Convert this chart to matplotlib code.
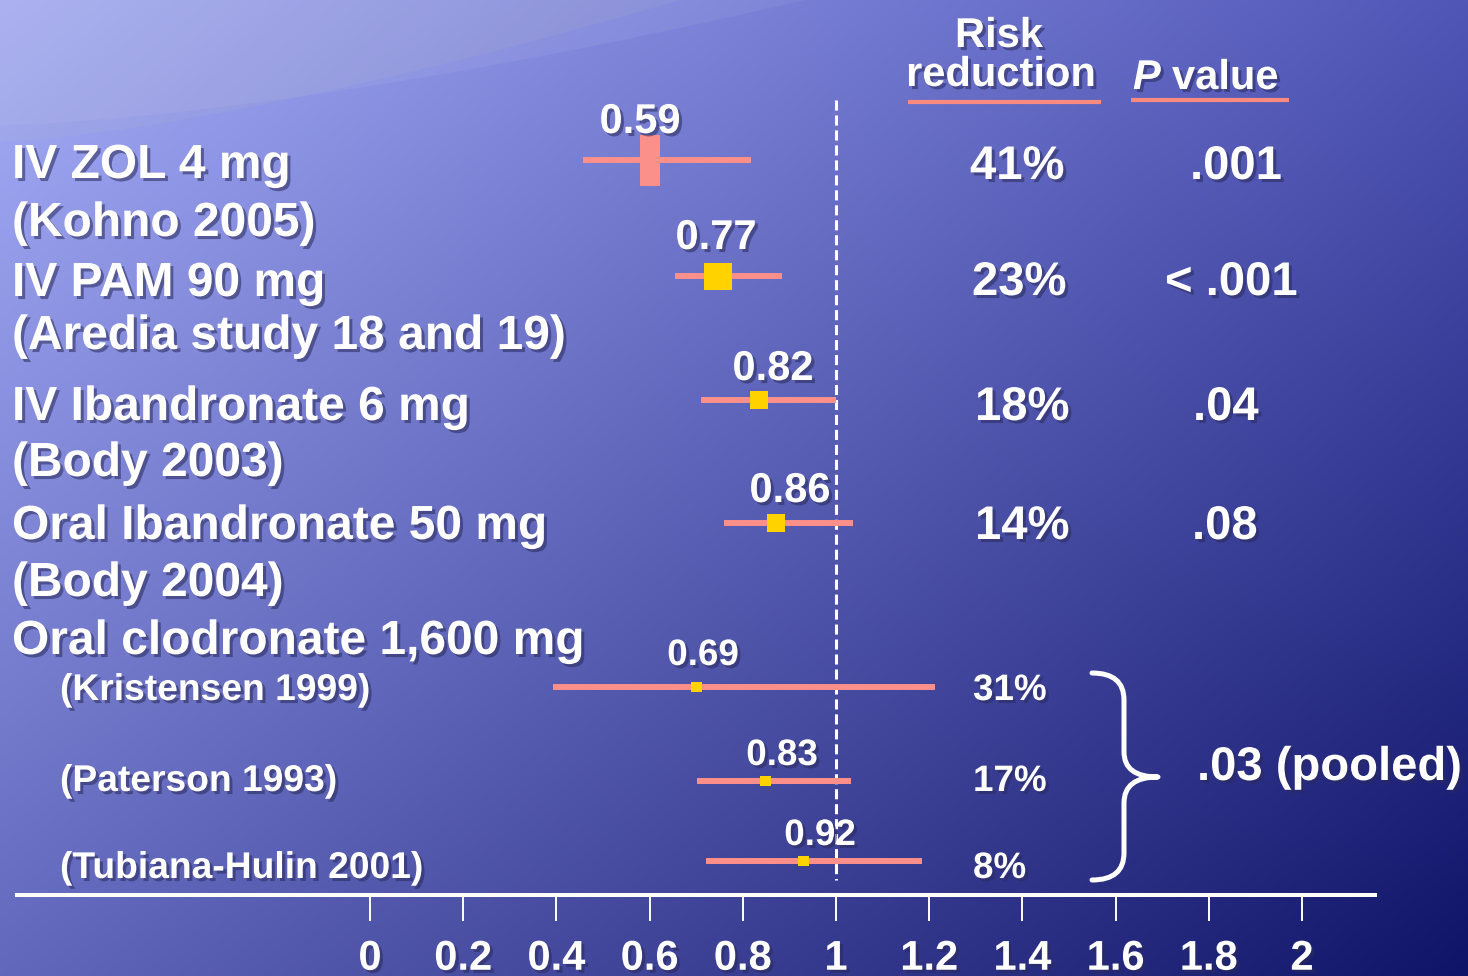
import matplotlib
matplotlib.use("Agg")
import matplotlib.pyplot as plt
import matplotlib.patheffects as pe
from matplotlib.patches import Rectangle, PathPatch, Polygon
from matplotlib.path import Path
import numpy as np

# ---- data ----
drug_labels = ["IV ZOL 4 mg", "IV PAM 90 mg", "IV Ibandronate 6 mg",
               "Oral Ibandronate 50 mg", "Oral clodronate 1,600 mg"]
drug_studies = ["(Kohno 2005)", "(Aredia study 18 and 19)", "(Body 2003)", "(Body 2004)"]
clod_studies = ["(Kristensen 1999)", "(Paterson 1993)", "(Tubiana-Hulin 2001)"]

hr_text = ["0.59", "0.77", "0.82", "0.86", "0.69", "0.83", "0.92"]
hr_point = [0.60, 0.747, 0.835, 0.871, 0.70, 0.848, 0.93]
ci_low = [0.457, 0.654, 0.71, 0.76, 0.393, 0.702, 0.72]
ci_high = [0.818, 0.885, 1.00, 1.036, 1.212, 1.032, 1.185]
risk_red = ["41%", "23%", "18%", "14%", "31%", "17%", "8%"]
p_values = [".001", "< .001", ".04", ".08"]
p_pooled = ".03 (pooled)"
xticks = [0, 0.2, 0.4, 0.6, 0.8, 1, 1.2, 1.4, 1.6, 1.8, 2]

# ---- layout (pixels from top) ----
W, H = 1468, 976
row_y = [160, 276, 400, 523, 687, 781, 861]
box_w = [20, 28, 18, 18, 11, 11, 11]
box_h = [51, 27, 18, 18, 10, 10, 10]
box_col = ["#fb8f8a", "#ffd200", "#ffd200", "#ffd200", "#ffd200", "#ffd200", "#ffd200"]
label_base = [178, 296, 420, 539, 654]
study_base = [236, 349, 476, 596]
clod_base = [700, 791, 878]
val_pos = [(640, 133), (716, 249), (773, 380), (790, 502), (703, 665), (782, 765), (820, 845)]
val_size = [30, 30, 30, 30, 26.5, 26.5, 26.5]
risk_base = [179, 295, 420, 539, 700, 791, 878]
risk_x = [970, 972, 975, 975, 973, 973, 973]
risk_size = [34, 34, 34, 34, 26.5, 26.5, 26.5]
p_x = [1190, 1165, 1193, 1192]

salmon = "#fb8f8a"
px_per_unit = 466.0
x0_px = 370.0

FONT = ["Liberation Sans", "DejaVu Sans"]
shadow = [pe.withSimplePatchShadow(offset=(2.2, -2.2), shadow_rgbFace="#2a2a5a", alpha=0.55)]

fig = plt.figure(figsize=(W / 100, H / 100), dpi=100)

# background gradient
bg = fig.add_axes([0, 0, 1, 1], zorder=0)
tl = np.array([0xa6, 0xae, 0xf9]) / 255
tr = np.array([0x50, 0x56, 0xb6]) / 255
bl = np.array([0x62, 0x68, 0xbc]) / 255
br = np.array([0x10, 0x14, 0x68]) / 255
gx = np.linspace(0, 1, 300)[None, :, None]
gy = np.linspace(0, 1, 200)[:, None, None]
img = (1 - gx) * (1 - gy) * tl + gx * (1 - gy) * tr + (1 - gx) * gy * bl + gx * gy * br
bg.imshow(img, extent=(0, W, H, 0), aspect="auto", interpolation="bilinear")
xs = np.linspace(0, 805, 100)
c2 = 125 * (1 - (xs / 805) ** 1.5)
bg.add_patch(Polygon(np.column_stack([np.r_[xs, 0], np.r_[c2, 0]]), closed=True,
                     facecolor="white", alpha=0.06, edgecolor="none"))
xs1 = np.linspace(0, 680, 100)
c1 = 142 * (1 - (xs1 / 680) ** 1.4)
bg.add_patch(Polygon(np.column_stack([np.r_[xs1, 0], np.r_[c1, 0]]), closed=True,
                     facecolor="#b4b4c4", alpha=0.15, edgecolor="none"))
bg.set_xlim(0, W)
bg.set_ylim(H, 0)
bg.axis("off")

# forest plot axes
ax = fig.add_axes([17 / W, (H - 895) / H, (1375 - 17) / W, 895 / H], zorder=1)
ax.patch.set_visible(False)
ax.set_xlim((17 - x0_px) / px_per_unit, (1375 - x0_px) / px_per_unit)
ax.set_ylim(895, 0)
for s in ["top", "left", "right"]:
    ax.spines[s].set_visible(False)
ax.spines["bottom"].set_color("white")
ax.spines["bottom"].set_linewidth(2.9)
ax.set_yticks([])
ax.set_xticks(xticks)
ax.set_xticklabels([f"{v:g}" for v in xticks])
ax.tick_params(axis="x", direction="out", length=18.5, width=1.4, colors="white",
               pad=13, labelsize=30)
for t in ax.get_xticklabels():
    t.set_fontfamily(FONT)
    t.set_fontweight("bold")
    t.set_path_effects(shadow)

ax.vlines(1.0, 100, 880, colors="white", linewidth=2.2, linestyles=(0, (3.3, 1.6)), zorder=2)
ax.hlines(row_y, ci_low, ci_high, colors=salmon, linewidth=4.3, capstyle="butt", zorder=3)
for i in range(len(row_y)):
    w = box_w[i] / px_per_unit
    ax.add_patch(Rectangle((hr_point[i] - w / 2, row_y[i] - box_h[i] / 2), w, box_h[i],
                           facecolor=box_col[i], edgecolor="none", zorder=4))

# text overlay in pixel coordinates
lay = fig.add_axes([0, 0, 1, 1], zorder=3)
lay.patch.set_visible(False)
lay.set_xlim(0, W)
lay.set_ylim(H, 0)
lay.axis("off")


def txt(x, y, s, size, ha="left", style="normal"):
    lay.text(x, y, s, fontsize=size, fontweight="bold", fontfamily=FONT, color="white",
             ha=ha, va="baseline", fontstyle=style, path_effects=shadow)


for lab, yb in zip(drug_labels, label_base):
    txt(12, yb, lab, 34.5)
for lab, yb in zip(drug_studies, study_base):
    txt(12, yb, lab, 34.5)
for lab, yb in zip(clod_studies, clod_base):
    txt(60, yb, lab, 26.8)
for s, (x, y), fs in zip(hr_text, val_pos, val_size):
    txt(x, y, s, fs, ha="center")
for s, x, y, fs in zip(risk_red, risk_x, risk_base, risk_size):
    txt(x, y, s, fs)
for s, x, y in zip(p_values, p_x, risk_base[:4]):
    txt(x, y, s, 34)
txt(1197, 780, p_pooled, 34)

# column headers
txt(999, 47, "Risk", 30, ha="center")
txt(1001, 86, "reduction", 30, ha="center")
txt(1133, 89, "P", 30, style="italic")
txt(1172, 89, "value", 30)
lay.plot([908, 1101], [102, 102], color="#f98a80", linewidth=3, solid_capstyle="butt")
lay.plot([1131, 1289], [100, 100], color="#f98a80", linewidth=3, solid_capstyle="butt")

# brace for pooled clodronate trials
verts = [(1092, 673), (1124, 673), (1124, 700), (1124, 752), (1124, 777), (1158, 777),
         (1124, 777), (1124, 803), (1124, 853), (1124, 880), (1092, 880)]
codes = [Path.MOVETO, Path.CURVE3, Path.CURVE3, Path.LINETO, Path.CURVE3, Path.CURVE3,
         Path.CURVE3, Path.CURVE3, Path.LINETO, Path.CURVE3, Path.CURVE3]
lay.add_patch(PathPatch(Path(verts, codes), facecolor="none", edgecolor="white",
                        linewidth=3.6, capstyle="round", joinstyle="round"))

fig.savefig("out.png", dpi=100)
